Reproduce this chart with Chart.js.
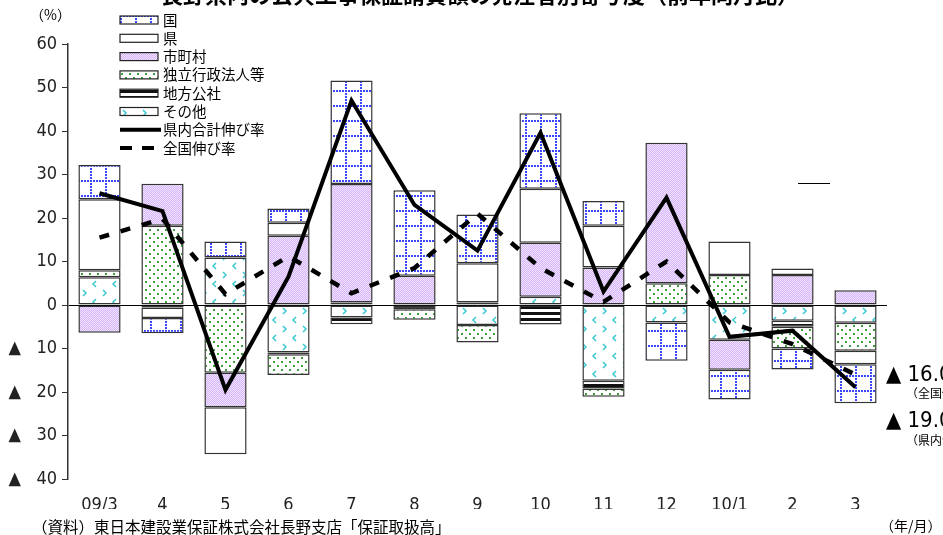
<!DOCTYPE html>
<html lang="ja">
<head>
<meta charset="utf-8">
<title>発注者別寄与度</title>
<script src="https://cdn.jsdelivr.net/npm/chart.js@4.4.1/dist/chart.umd.min.js"></script>
<style>
  html, body { margin: 0; padding: 0; background: #fff; }
  #wrap { width: 943px; height: 535px; }
</style>
</head>
<body>
<div id="wrap"><canvas id="grafico" width="943" height="535"></canvas></div>
<script>
// 年/月
const meses = ["09/3", "4", "5", "6", "7", "8", "9", "10", "11", "12", "10/1", "2", "3"];

// 寄与度（％）  積み上げ順：ゼロに近い方から
const sonota    = [6.4, null, 10.9, -10.9, -2.9, null, -4.6, 1.9, -17.4, -4.0, -8.0, -3.6, -4.1];
const kousha    = [null, -0.6, null, -0.4, -1.5, -1.0, null, -4.5, -1.8, null, null, -1.4, null];
const dokuritsu = [1.6, 18.2, -15.6, -4.8, 0.6, -2.4, -4.0, null, -1.9, 5.0, 6.9, -5.0, -6.4];
const shichoson = [-6.4, 9.7, -7.9, 15.9, 27.2, 6.7, 0.6, 12.4, 8.6, 32.3, -6.9, 6.9, 3.4];
const ken       = [16.3, -2.4, -10.8, 3.0, null, null, 9.0, 12.4, 9.6, null, 7.7, 1.5, -3.1];
const kuni      = [7.9, -3.5, 3.7, 3.3, 23.8, 19.7, 11.2, 17.4, 5.7, -8.8, -6.8, -4.8, -9.0];

// 伸び率（％）
const kennai = [25.7, 21.6, -19.5, 6.5, 47.0, 23.0, 12.5, 39.6, 3.1, 24.7, -7.3, -5.9, -18.9];
const zenkoku = [15.5, 19.8, 2.5, 11.2, 2.7, 8.5, 21.0, 8.5, 0.7, 10.0, -4.0, -9.0, -16.0];

const FONT_JP = "'Noto Sans CJK JP', 'Noto Sans', sans-serif";
const FONT_NUM = "'Liberation Sans Narrow', 'DejaVu Sans Condensed', 'Noto Sans CJK JP', sans-serif";

// パターン
function tile(w, h, draw) {
  const c = document.createElement("canvas");
  c.width = w; c.height = h;
  const g = c.getContext("2d");
  g.fillStyle = "#fff";
  g.fillRect(0, 0, w, h);
  draw(g);
  return document.createElement("canvas").getContext("2d").createPattern(c, "repeat");
}

const patKuni = tile(15, 15, g => {
  g.fillStyle = "#3a46ff";
  for (let i = 0; i < 15; i += 3) {
    g.fillRect(i, 0, 2, 2);
    g.fillRect(0, i, 2, 2);
  }
});
const patShichoson = tile(2, 2, g => {
  g.fillStyle = "#d6b4f9";
  g.fillRect(0, 0, 2, 2);
  g.fillStyle = "#f0e4ff";
  g.fillRect(0, 0, 1, 1);
  g.fillRect(1, 1, 1, 1);
});
const patDokuritsu = tile(8, 8, g => {
  g.fillStyle = "#3ca03c";
  g.fillRect(1, 1, 2, 2);
  g.fillRect(5, 5, 2, 2);
});
const patKousha = tile(4, 6, g => {
  g.fillStyle = "#111";
  g.fillRect(0, 0, 4, 3);
});
const patSonota = tile(20, 18, g => {
  g.strokeStyle = "#3cc8d2";
  g.lineWidth = 1.5;
  g.beginPath();
  g.moveTo(3, 2); g.lineTo(6, 5); g.lineTo(3, 8);
  g.moveTo(16, 11); g.lineTo(13, 14); g.lineTo(16, 17);
  g.stroke();
});

function barSet(label, data, fill) {
  return {
    type: "bar",
    label: label,
    data: data,
    backgroundColor: fill,
    borderColor: "#333",
    borderWidth: 1.5,
    borderSkipped: false,
    stack: "barras",
    order: 1,
    barPercentage: 0.67,
    categoryPercentage: 1.0
  };
}

// 凡例と注記
const extras = {
  id: "extras",
  afterDraw(chart) {
    const ctx = chart.ctx;
    ctx.save();

    // タイトル（上端で切れている）
    ctx.fillStyle = "#000";
    ctx.font = "bold 22px " + FONT_JP;
    ctx.textAlign = "center";
    ctx.textBaseline = "bottom";
    ctx.fillText("長野県内の公共工事保証請負額の発注者別寄与度（前年同月比）", 480, 6);

    ctx.font = "14px " + FONT_JP;
    ctx.textAlign = "left";
    ctx.textBaseline = "middle";
    ctx.fillText("（%）", 30, 15);

    // 凡例
    const items = [
      ["国", patKuni, "box"],
      ["県", "#fff", "box"],
      ["市町村", patShichoson, "box"],
      ["独立行政法人等", patDokuritsu, "box"],
      ["地方公社", patKousha, "box"],
      ["その他", patSonota, "box"],
      ["県内合計伸び率", null, "solid"],
      ["全国伸び率", null, "dash"]
    ];
    ctx.font = "14.5px " + FONT_JP;
    items.forEach((it, i) => {
      const y = 20 + i * 18.3;
      if (it[2] === "box") {
        ctx.fillStyle = it[1];
        ctx.fillRect(120, y - 4, 38, 8);
        ctx.strokeStyle = "#222";
        ctx.lineWidth = 1.2;
        ctx.strokeRect(120, y - 4, 38, 8);
      } else {
        ctx.strokeStyle = "#000";
        ctx.lineWidth = 4;
        ctx.setLineDash(it[2] === "dash" ? [12, 10] : []);
        ctx.beginPath();
        ctx.moveTo(120, y);
        ctx.lineTo(it[2] === "dash" ? 156 : 161, y);
        ctx.stroke();
        ctx.setLineDash([]);
      }
      ctx.fillStyle = "#000";
      ctx.fillText(it[0], 163, y);
    });

    // 右側の注記
    ctx.font = "22px " + FONT_NUM;
    ctx.fillText("▲ 16.0%", 886, 375);
    ctx.fillText("▲ 19.0%", 886, 421);
    ctx.font = "12px " + FONT_JP;
    ctx.fillText("（全国伸び率）", 906, 393);
    ctx.fillText("（県内合計伸び率）", 906, 440);

    // 出典・単位
    ctx.font = "15.5px " + FONT_JP;
    ctx.fillText("（資料）東日本建設業保証株式会社長野支店「保証取扱高」", 32, 527);
    ctx.font = "14px " + FONT_JP;
    ctx.fillText("（年/月）", 880, 526);

    // 細い線
    ctx.strokeStyle = "#000";
    ctx.lineWidth = 1;
    ctx.beginPath();
    ctx.moveTo(798, 183.5);
    ctx.lineTo(830, 183.5);
    ctx.stroke();

    ctx.restore();
  }
};

new Chart(document.getElementById("grafico"), {
  data: {
    labels: meses,
    datasets: [
      {
        type: "line",
        label: "県内合計伸び率",
        data: kennai,
        borderColor: "#000",
        borderWidth: 4,
        pointRadius: 0,
        tension: 0,
        fill: false,
        stack: "l1",
        order: 0
      },
      {
        type: "line",
        label: "全国伸び率",
        data: zenkoku,
        borderColor: "#000",
        borderWidth: 4.5,
        borderDash: [10, 12],
        pointRadius: 0,
        tension: 0,
        fill: false,
        stack: "l2",
        order: 0
      },
      barSet("その他", sonota, patSonota),
      barSet("地方公社", kousha, patKousha),
      barSet("独立行政法人等", dokuritsu, patDokuritsu),
      barSet("市町村", shichoson, patShichoson),
      barSet("県", ken, "#fff"),
      barSet("国", kuni, patKuni)
    ]
  },
  options: {
    responsive: false,
    animation: false,
    layout: { padding: { top: 44, right: 56, bottom: 26, left: 0 } },
    plugins: {
      legend: { display: false },
      tooltip: { enabled: false },
      title: { display: false }
    },
    scales: {
      x: {
        stacked: true,
        grid: { display: false },
        border: { display: false },
        ticks: {
          color: "#222",
          font: { size: 18, family: FONT_NUM },
          padding: 8,
          maxRotation: 0
        },
        afterFit(scale) { scale.height = 30; }
      },
      y: {
        stacked: true,
        min: -40,
        max: 60,
        ticks: {
          stepSize: 10,
          color: "#222",
          font: { size: 18, family: FONT_NUM },
          padding: 5,
          callback: v => (v < 0 ? "▲   " + (-v) : String(v))
        },
        grid: {
          drawOnChartArea: true,
          color: c => (c.tick && c.tick.value === 0 ? "#000" : "rgba(0,0,0,0)"),
          lineWidth: 1,
          tickColor: "#333",
          tickLength: 6
        },
        border: { display: true, color: "#333", width: 1.5 },
        afterFit(scale) { scale.width = 68; }
      }
    }
  },
  plugins: [extras]
});
</script>
</body>
</html>
